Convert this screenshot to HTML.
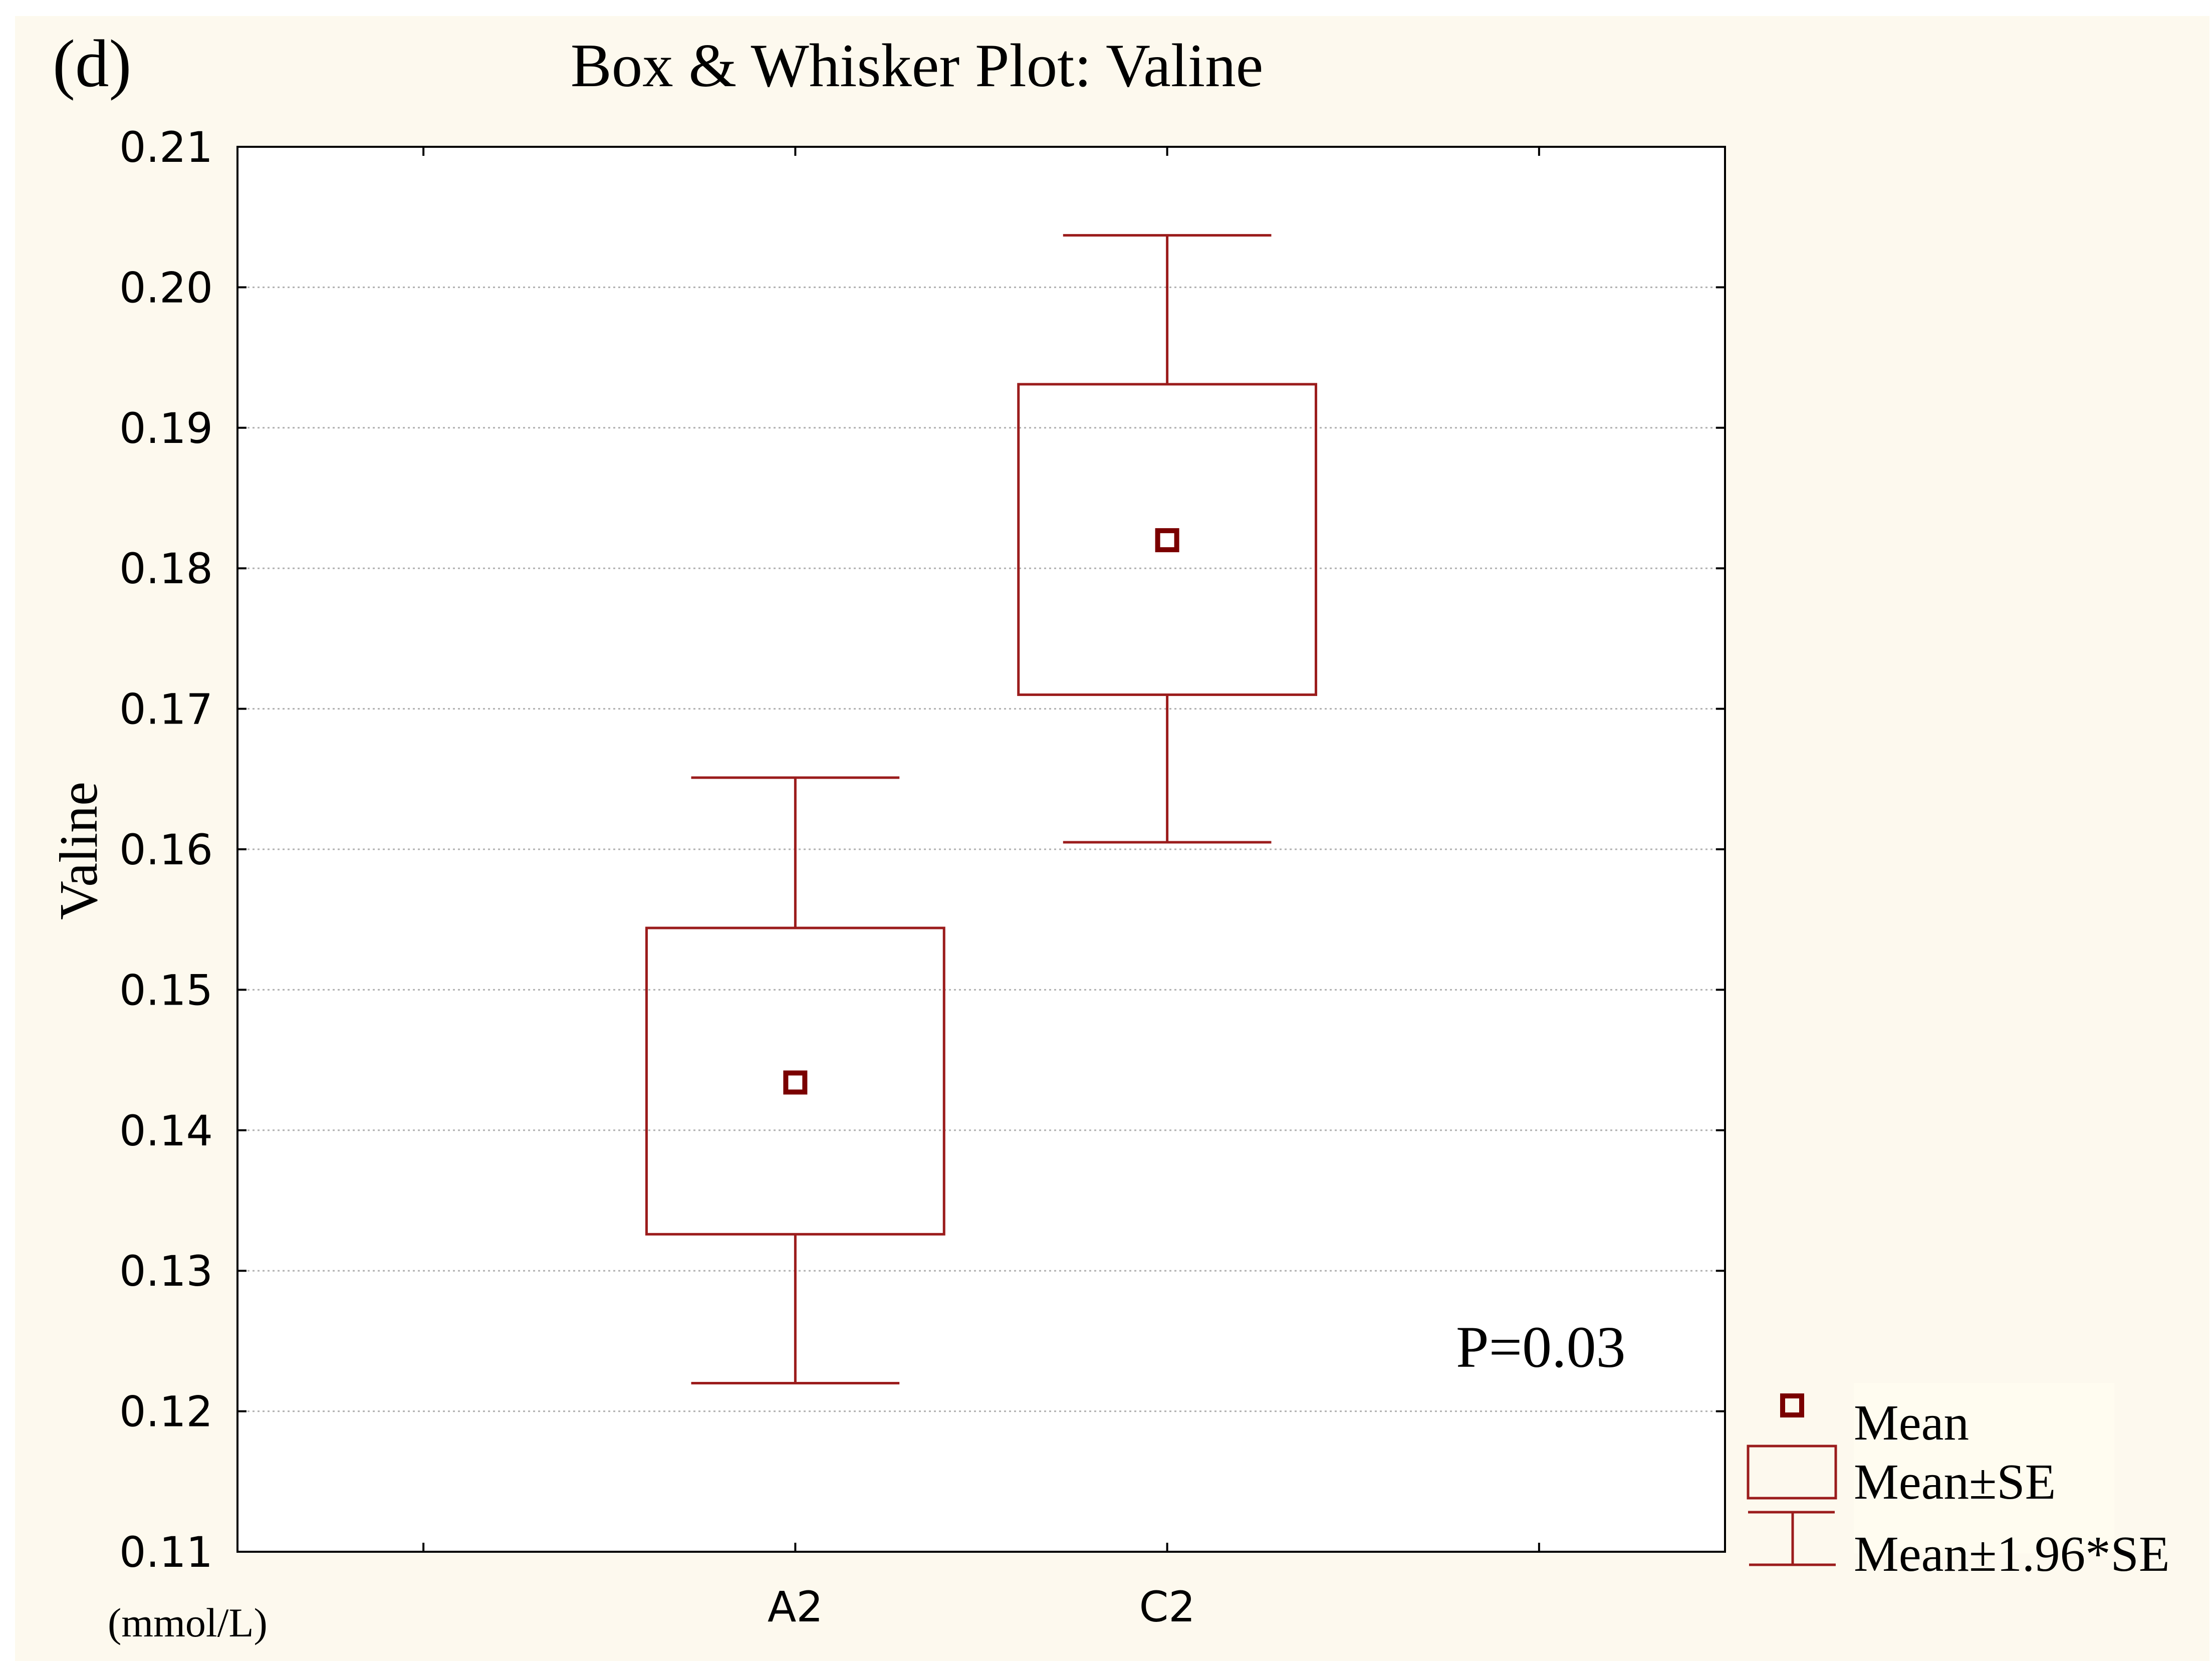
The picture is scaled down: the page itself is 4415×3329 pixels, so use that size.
<!DOCTYPE html>
<html><head><meta charset="utf-8"><style>
html,body{margin:0;padding:0;background:#fff;}
svg{display:block;}
.serif{font-family:"Liberation Serif","DejaVu Serif",serif;}
.sans{font-family:"DejaVu Sans","Liberation Sans",sans-serif;}
</style></head><body>
<svg id="chart" width="4415" height="3329" viewBox="0 0 4415 3329" xmlns="http://www.w3.org/2000/svg">
<rect x="30" y="32" width="4380" height="3283" fill="#fdf9ee"/>
<rect x="474" y="293" width="2969" height="2804" fill="#ffffff"/>
<g id="grid"></g>
<g id="marks"></g>
<rect x="474" y="293" width="2969" height="2804" fill="none" stroke="#000" stroke-width="4"/>
<g id="axes"></g>
<text class="serif" x="105" y="172" font-size="135">(d)</text>
<text class="serif" x="1830" y="172" font-size="123" text-anchor="middle">Box &amp; Whisker Plot: Valine</text>
<text class="serif" font-size="108" text-anchor="middle" transform="translate(193,1698) rotate(-90)">Valine</text>
<text class="serif" x="215" y="3266" font-size="82">(mmol/L)</text>
<text class="serif" x="2906" y="2728" font-size="118">P=0.03</text>
<g>
<rect x="3700" y="2760" width="520" height="340" fill="#fffcf0"/>
<rect x="3558" y="2786" width="38" height="38" fill="none" stroke="#7a0000" stroke-width="10"/>
<text class="serif" x="3700" y="2873" font-size="101">Mean</text>
<rect x="3489" y="2886" width="175" height="104" fill="none" stroke="#9b1c1c" stroke-width="5"/>
<text class="serif" x="3700" y="2991" font-size="101">Mean±SE</text>
<path d="M3489 3018H3662M3578 3018V3123M3491 3123H3664" stroke="#9b1c1c" stroke-width="5" fill="none"/>
<text class="serif" x="3700" y="3135" font-size="101">Mean±1.96*SE</text>
</g>
</svg>
<script>
const categories = ["", "A2", "C2", ""];
const means = [null, 0.1434, 0.1820, null];
const seLow = [null, 0.1326, 0.1710, null];
const seHigh = [null, 0.1544, 0.1931, null];
const ciLow = [null, 0.1220, 0.1605, null];
const ciHigh = [null, 0.1651, 0.2037, null];
const yTicks = [0.11, 0.12, 0.13, 0.14, 0.15, 0.16, 0.17, 0.18, 0.19, 0.20, 0.21];
const yTickLabels = ["0.11","0.12","0.13","0.14","0.15","0.16","0.17","0.18","0.19","0.20","0.21"];

const L=474,R=3443,T=293,B=3097,yMin=0.11,yMax=0.21;
const NS="http://www.w3.org/2000/svg";
const band=(R-L)/categories.length;
function xs(i){return L+band*(i+0.5);}
function ys(v){return B-(v-yMin)/(yMax-yMin)*(B-T);}
function mk(tag,attrs,parent){const e=document.createElementNS(NS,tag);for(const k in attrs)e.setAttribute(k,attrs[k]);parent.appendChild(e);return e;}
const grid=document.getElementById('grid'),axes=document.getElementById('axes'),marks=document.getElementById('marks');
yTicks.forEach((v,i)=>{
  const y=ys(v);
  if(i>0&&i<yTicks.length-1){
    const g=mk('line',{x1:L,x2:R,y1:y,y2:y,stroke:'#b0b0b0','stroke-width':3,'stroke-dasharray':'4 6'},grid);
    
    
  }
  const t1=mk('line',{x1:L,x2:L+18,y1:y,y2:y,stroke:'#000','stroke-width':4},axes);
  
  
  const t2=mk('line',{x1:R-18,x2:R,y1:y,y2:y,stroke:'#000','stroke-width':4},axes);
  
  
  const lb=mk('text',{x:425,y:y+30,'font-size':84,'text-anchor':'end','class':'sans',fill:'#000'},axes);
  lb.textContent=yTickLabels[i];
  
  
});
categories.forEach((c,i)=>{
  const x=xs(i);
  const tb=mk('line',{x1:x,x2:x,y1:B-18,y2:B,stroke:'#000','stroke-width':4},axes);
  
  
  const tt=mk('line',{x1:x,x2:x,y1:T,y2:T+18,stroke:'#000','stroke-width':4},axes);
  
  
  if(c){
    const lb=mk('text',{x:x,y:3236,'font-size':84,'text-anchor':'middle','class':'sans',fill:'#000'},axes);
    lb.textContent=c;
    
    
  }
  if(means[i]==null)return;
  const col='#9b1c1c';
  const bw=band*0.8,cw=band*0.56;
  const w=mk('path',{d:`M${x-cw/2} ${ys(ciHigh[i])}H${x+cw/2}M${x} ${ys(ciHigh[i])}V${ys(seHigh[i])}M${x} ${ys(seLow[i])}V${ys(ciLow[i])}M${x-cw/2} ${ys(ciLow[i])}H${x+cw/2}`,stroke:col,'stroke-width':5,fill:'none'},marks);
  
  
  const b=mk('rect',{x:x-bw/2,y:ys(seHigh[i]),width:bw,height:ys(seLow[i])-ys(seHigh[i]),fill:'none',stroke:col,'stroke-width':5},marks);
  
  
  const m=mk('rect',{x:x-19,y:ys(means[i])-19,width:38,height:38,fill:'none',stroke:'#7a0000','stroke-width':10},marks);
  
  
});
</script>
</body></html>
